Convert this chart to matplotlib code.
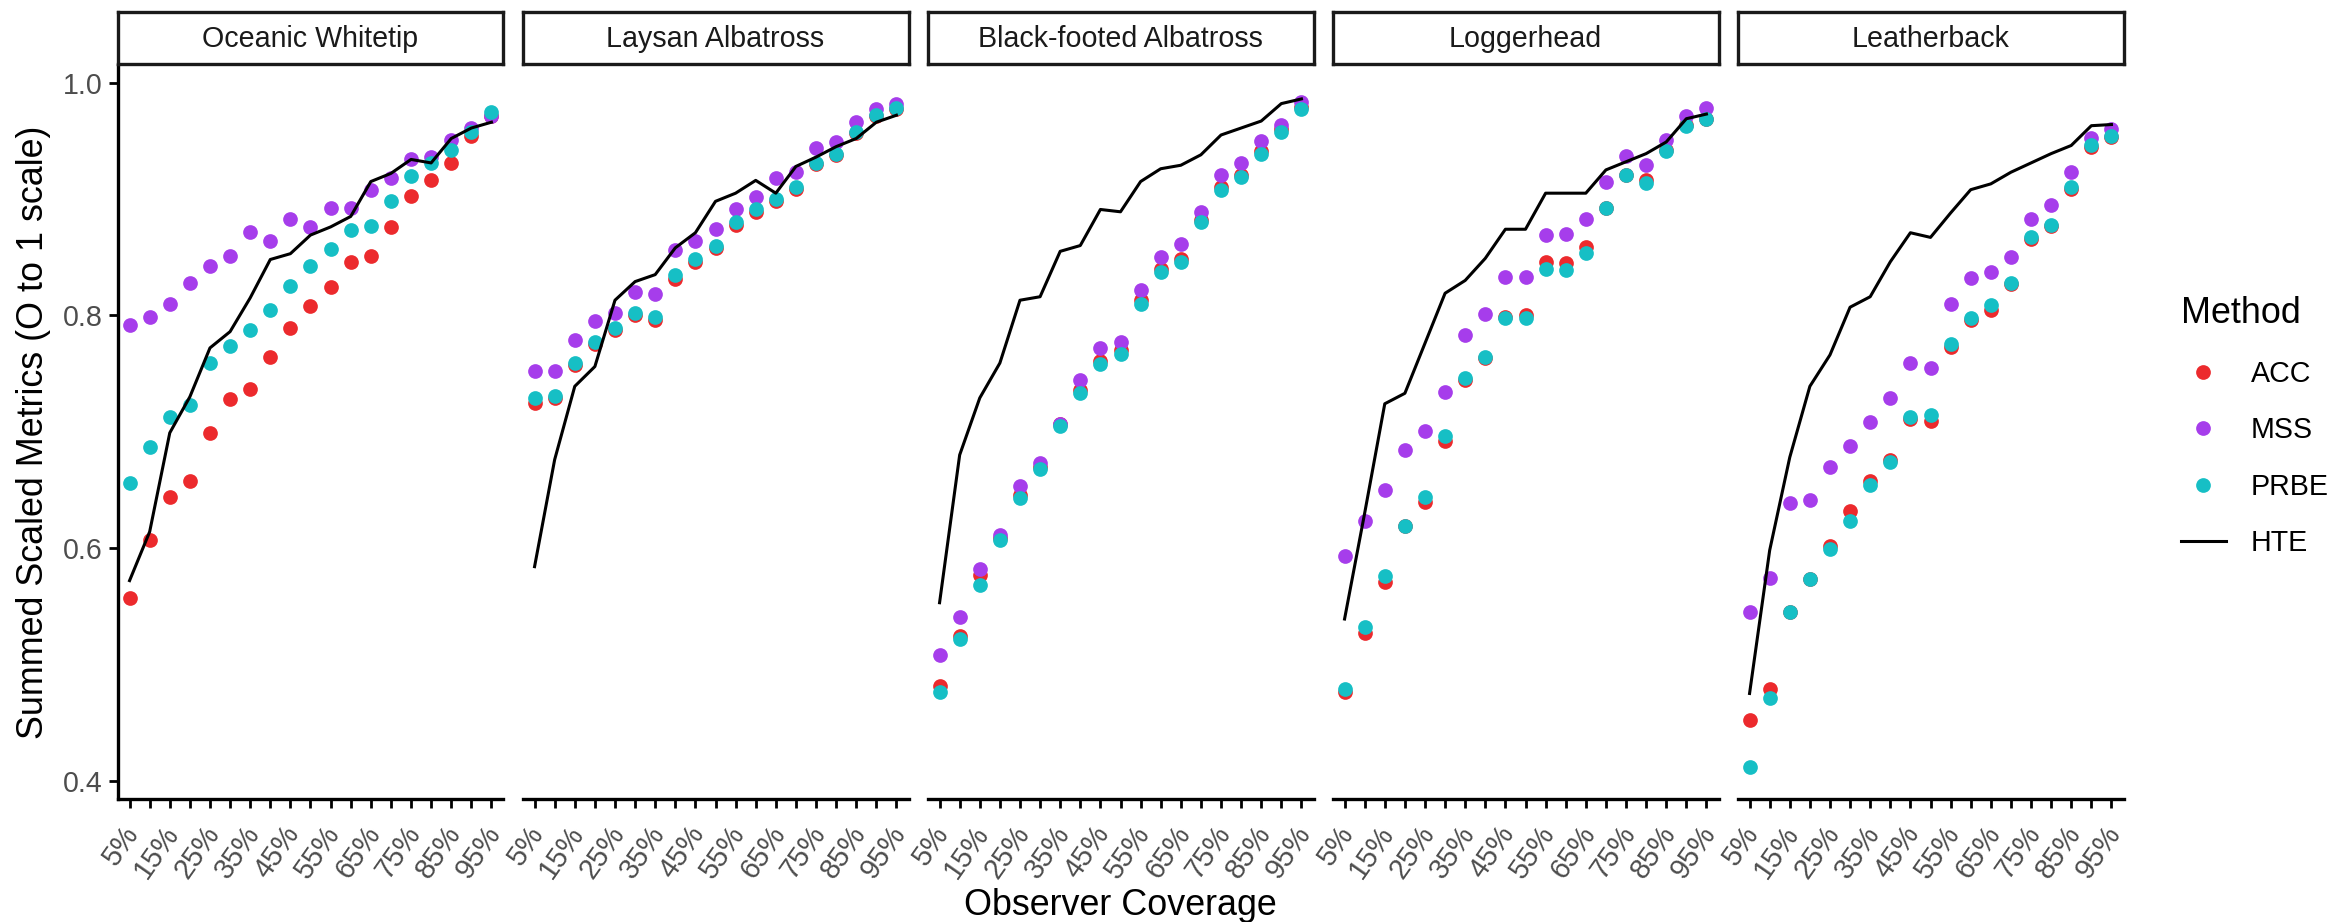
import matplotlib
matplotlib.use("Agg")
import matplotlib.pyplot as plt
from matplotlib.lines import Line2D
from matplotlib.transforms import ScaledTranslation
import numpy as np

plt.rcParams['font.family'] = ['Liberation Sans', 'DejaVu Sans']

# ---------------- data ----------------
coverage = ['5%', '10%', '15%', '20%', '25%', '30%', '35%', '40%', '45%', '50%',
            '55%', '60%', '65%', '70%', '75%', '80%', '85%', '90%', '95%']
species = ['Oceanic Whitetip', 'Laysan Albatross', 'Black-footed Albatross',
           'Loggerhead', 'Leatherback']
methods = ['ACC', 'MSS', 'PRBE', 'HTE']

acc_oceanic = [0.557, 0.607, 0.644, 0.658, 0.699, 0.728, 0.737, 0.764, 0.789, 0.808,
               0.824, 0.846, 0.851, 0.876, 0.903, 0.916, 0.931, 0.954, 0.971]
mss_oceanic = [0.792, 0.799, 0.810, 0.828, 0.842, 0.851, 0.872, 0.864, 0.883, 0.876,
               0.892, 0.892, 0.908, 0.918, 0.934, 0.936, 0.951, 0.961, 0.971]
prbe_oceanic = [0.656, 0.687, 0.713, 0.723, 0.759, 0.774, 0.787, 0.805, 0.825, 0.842,
                0.857, 0.873, 0.877, 0.898, 0.920, 0.931, 0.942, 0.958, 0.975]
hte_oceanic = [0.572, 0.614, 0.699, 0.730, 0.772, 0.786, 0.815, 0.848, 0.853, 0.869,
               0.876, 0.885, 0.915, 0.922, 0.934, 0.931, 0.952, 0.961, 0.966]

acc_laysan = [0.725, 0.729, 0.757, 0.775, 0.787, 0.800, 0.796, 0.831, 0.846, 0.858,
              0.878, 0.889, 0.898, 0.909, 0.930, 0.938, 0.957, 0.971, 0.977]
mss_laysan = [0.752, 0.752, 0.779, 0.795, 0.802, 0.820, 0.818, 0.856, 0.864, 0.874,
              0.891, 0.902, 0.918, 0.923, 0.944, 0.949, 0.966, 0.977, 0.982]
prbe_laysan = [0.729, 0.731, 0.759, 0.777, 0.789, 0.802, 0.799, 0.835, 0.848, 0.860,
               0.880, 0.891, 0.900, 0.910, 0.931, 0.939, 0.958, 0.972, 0.978]
hte_laysan = [0.584, 0.676, 0.739, 0.756, 0.813, 0.829, 0.835, 0.858, 0.871, 0.898,
              0.905, 0.916, 0.905, 0.928, 0.936, 0.945, 0.952, 0.966, 0.972]

acc_blackfooted = [0.481, 0.524, 0.577, 0.609, 0.646, 0.670, 0.707, 0.736, 0.761, 0.770,
                   0.813, 0.840, 0.848, 0.882, 0.910, 0.921, 0.941, 0.960, 0.979]
mss_blackfooted = [0.508, 0.541, 0.582, 0.611, 0.653, 0.673, 0.707, 0.744, 0.772, 0.777,
                   0.822, 0.850, 0.861, 0.889, 0.921, 0.931, 0.950, 0.964, 0.983]
prbe_blackfooted = [0.476, 0.522, 0.568, 0.607, 0.643, 0.668, 0.705, 0.733, 0.758, 0.767,
                    0.810, 0.837, 0.846, 0.880, 0.908, 0.919, 0.939, 0.958, 0.977]
hte_blackfooted = [0.553, 0.680, 0.729, 0.759, 0.813, 0.816, 0.855, 0.860, 0.891, 0.889,
                   0.915, 0.926, 0.929, 0.938, 0.955, 0.961, 0.967, 0.982, 0.986]

acc_loggerhead = [0.476, 0.527, 0.571, 0.619, 0.640, 0.692, 0.744, 0.763, 0.799, 0.800,
                  0.846, 0.845, 0.859, 0.892, 0.921, 0.916, 0.942, 0.964, 0.969]
mss_loggerhead = [0.593, 0.623, 0.650, 0.684, 0.701, 0.734, 0.783, 0.801, 0.833, 0.833,
                  0.869, 0.870, 0.883, 0.915, 0.937, 0.929, 0.951, 0.971, 0.978]
prbe_loggerhead = [0.479, 0.532, 0.576, 0.619, 0.644, 0.696, 0.746, 0.764, 0.798, 0.798,
                   0.840, 0.839, 0.854, 0.892, 0.921, 0.914, 0.941, 0.963, 0.969]
hte_loggerhead = [0.539, 0.630, 0.724, 0.733, 0.776, 0.819, 0.830, 0.849, 0.874, 0.874,
                  0.905, 0.905, 0.905, 0.925, 0.932, 0.939, 0.949, 0.969, 0.973]

acc_leatherback = [0.452, 0.479, 0.545, 0.573, 0.602, 0.632, 0.658, 0.676, 0.711, 0.709,
                   0.773, 0.796, 0.805, 0.827, 0.866, 0.877, 0.909, 0.945, 0.953]
mss_leatherback = [0.545, 0.574, 0.639, 0.641, 0.670, 0.688, 0.708, 0.729, 0.759, 0.755,
                   0.810, 0.832, 0.837, 0.850, 0.883, 0.895, 0.923, 0.952, 0.960]
prbe_leatherback = [0.412, 0.471, 0.545, 0.573, 0.599, 0.623, 0.654, 0.674, 0.713, 0.714,
                    0.775, 0.798, 0.809, 0.828, 0.867, 0.878, 0.910, 0.946, 0.954]
hte_leatherback = [0.475, 0.598, 0.678, 0.739, 0.766, 0.807, 0.816, 0.846, 0.871, 0.867,
                   0.888, 0.908, 0.913, 0.923, 0.931, 0.939, 0.946, 0.963, 0.964]

series = {
    'Oceanic Whitetip': (acc_oceanic, mss_oceanic, prbe_oceanic, hte_oceanic),
    'Laysan Albatross': (acc_laysan, mss_laysan, prbe_laysan, hte_laysan),
    'Black-footed Albatross': (acc_blackfooted, mss_blackfooted, prbe_blackfooted, hte_blackfooted),
    'Loggerhead': (acc_loggerhead, mss_loggerhead, prbe_loggerhead, hte_loggerhead),
    'Leatherback': (acc_leatherback, mss_leatherback, prbe_leatherback, hte_leatherback),
}

# ---------------- style ----------------
colors = {'ACC': '#EC2A2D', 'MSS': '#A63DEB', 'PRBE': '#16BFC5'}
W, H = 2336, 922
DPI = 100
fig = plt.figure(figsize=(W / DPI, H / DPI), dpi=DPI)
fig.patch.set_facecolor('white')

panel_left0 = 117.5
panel_step = 405.0
panel_w = 386.0
panel_top = 64.5
panel_bot = 799.0
strip_top = 12.0

tick_fs = 20.6
title_fs = 25.8
x = np.arange(len(coverage))

for k, sp in enumerate(species):
    left = panel_left0 + k * panel_step
    ax = fig.add_axes([left / W, (H - panel_bot) / H, panel_w / W,
                       (panel_bot - panel_top) / H])
    acc, mss, prbe, hte = series[sp]
    ax.scatter(x, acc, s=112, color=colors['ACC'], linewidths=0, zorder=2)
    ax.scatter(x, mss, s=112, color=colors['MSS'], linewidths=0, zorder=2)
    ax.scatter(x, prbe, s=112, color=colors['PRBE'], linewidths=0, zorder=2)
    ax.plot(x, hte, color='black', lw=2.2, zorder=3, solid_joinstyle='round')

    ax.set_xlim(-0.6, len(coverage) - 1 + 0.6)
    ax.set_ylim(0.3843, 1.0156)
    for s in ['top', 'right']:
        ax.spines[s].set_visible(False)
    ax.spines['bottom'].set_linewidth(2.4)
    ax.spines['left'].set_linewidth(2.4)

    ax.set_xticks(x)
    ax.set_xticklabels([c if i % 2 == 0 else '' for i, c in enumerate(coverage)],
                       rotation=55, ha='right', va='top', fontsize=tick_fs,
                       color='#4D4D4D')
    ax.tick_params(axis='x', length=6.5, width=2.0, pad=9, color='black')
    offset = ScaledTranslation(15 / DPI, 0, fig.dpi_scale_trans)
    for lbl in ax.get_xticklabels():
        lbl.set_transform(lbl.get_transform() + offset)

    if k == 0:
        ax.set_yticks([0.4, 0.6, 0.8, 1.0])
        ax.set_yticklabels(['0.4', '0.6', '0.8', '1.0'], fontsize=tick_fs,
                           color='#4D4D4D')
        ax.tick_params(axis='y', length=6.5, width=2.0, pad=4, color='black')
    else:
        ax.spines['left'].set_visible(False)
        ax.set_yticks([])

    # facet strip
    sax = fig.add_axes([left / W, (H - panel_top) / H, panel_w / W,
                        (panel_top - strip_top) / H])
    sax.set_xticks([])
    sax.set_yticks([])
    for s in sax.spines.values():
        s.set_linewidth(2.4)
        s.set_color('#1A1A1A')
    sax.text(0.5, 0.48, sp, ha='center', va='center', fontsize=tick_fs,
             color='#1A1A1A', transform=sax.transAxes)

# axis titles
fig.text(34 / W, (H - 432) / H, 'Summed Scaled Metrics (O to 1 scale)',
         rotation=90, ha='center', va='center', fontsize=title_fs, color='black')
fig.text((panel_left0 + 4 * panel_step + panel_w + panel_left0) / 2 / W,
         (H - 915) / H, 'Observer Coverage', ha='center', va='baseline',
         fontsize=title_fs, color='black')

# legend
handles = [Line2D([], [], marker='o', ls='', color=colors[m], markersize=10.6,
                  markeredgewidth=0) for m in ['ACC', 'MSS', 'PRBE']]
handles.append(Line2D([], [], color='black', lw=2.2))
leg = fig.legend(handles=handles, labels=methods, title='Method',
                 loc='upper left', bbox_to_anchor=(2181 / W, (H - 296) / H),
                 frameon=False, fontsize=tick_fs, title_fontsize=title_fs,
                 handlelength=1.57, handletextpad=0.87, labelspacing=1.0,
                 borderpad=0, borderaxespad=0, alignment='left')

fig.savefig('out.png', dpi=DPI, facecolor='white')
